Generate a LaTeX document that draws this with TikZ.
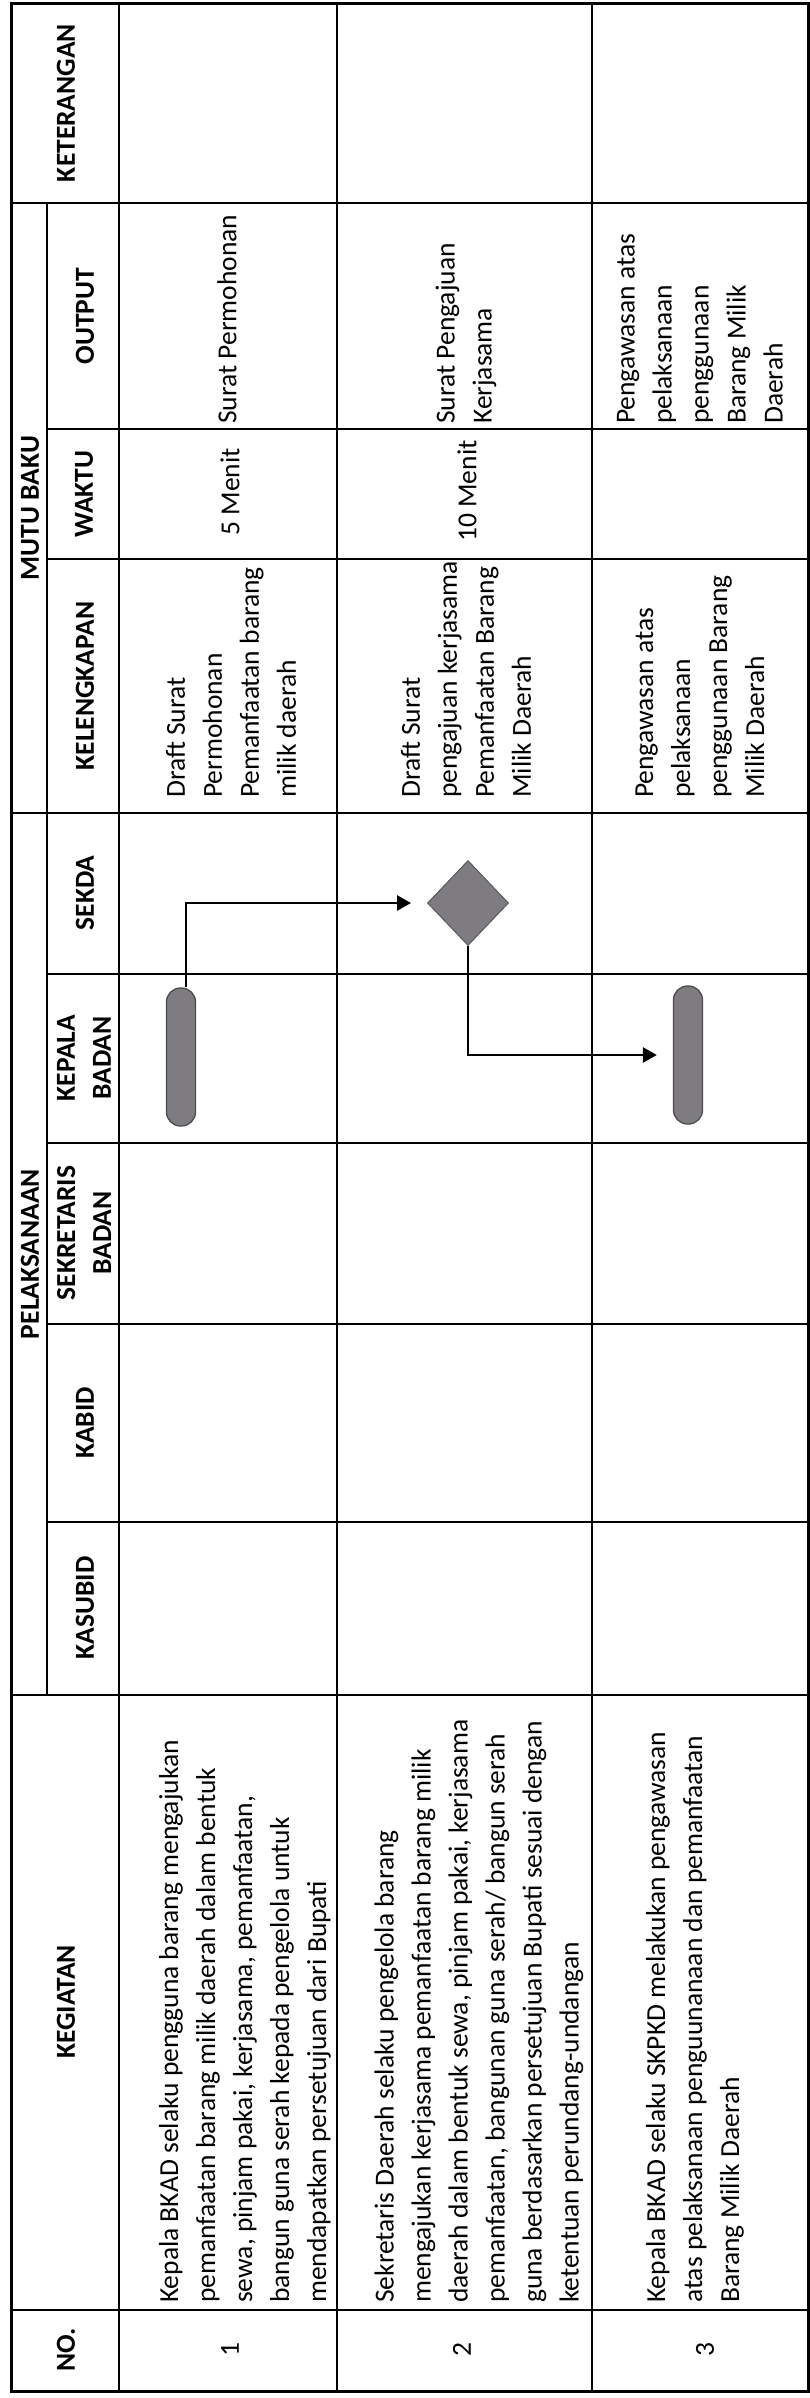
\documentclass[tikz,border=0pt]{standalone}
\usepackage{fontspec}
\setmainfont{Carlito}
\usetikzlibrary{arrows.meta,shapes.geometric}
\definecolor{shapegray}{RGB}{126,123,129}
\begin{document}
\begin{tikzpicture}[x=1pt,y=-1pt,
  rule/.style={line width=2.7pt, line cap=rect},
  border/.style={line width=3pt},
  hd/.style={rotate=90, font=\bfseries\fontsize{27.5pt}{36pt}\selectfont, align=center, inner sep=0pt},
  txt/.style={rotate=90, anchor=west, font=\fontsize{27.5pt}{37pt}\selectfont, align=left, inner sep=0pt},
  num/.style={rotate=90, font=\fontsize{27.5pt}{37pt}\selectfont, inner sep=0pt},
  term/.style={draw=black!70, line width=1.3pt, fill=shapegray, rounded corners=14pt, minimum width=29pt, minimum height=138pt, inner sep=0pt},
  dec/.style={diamond, draw=black!65, line width=1pt, fill=shapegray, minimum width=81pt, minimum height=85pt, inner sep=0pt},
  flow/.style={line width=2.8pt, -{Triangle[length=14pt,width=15pt]}, shorten >=16pt}
]
\useasboundingbox[fill=white] (0,0) rectangle (810,2398);

% grid
\foreach \yy in {203,813,1695,2310} \draw[rule] (11,\yy) -- (808,\yy);
\foreach \yy in {429,559,974,1143,1324,1522} \draw[rule] (47,\yy) -- (808,\yy);
\draw[rule] (47,203) -- (47,1695);
\foreach \xx in {119,337,592} \draw[rule] (\xx,4) -- (\xx,2391);
\draw[border] (11,4) rectangle (808,2391);

% header
\node[hd] (hket) at (66,103) {KETERANGAN};
\node[hd] (hmutu) at (30,508) {MUTU BAKU};
\node[hd] (hpel) at (30,1254) {PELAKSANAAN};
\node[hd] (hout) at (85,316) {OUTPUT};
\node[hd] (hwak) at (84,494) {WAKTU};
\node[hd] (hkel) at (85,686) {KELENGKAPAN};
\node[hd] (hsek) at (85,893) {SEKDA};
\node[hd] (hkep) at (84,1058) {KEPALA\\BADAN};
\node[hd] (hsekr) at (84,1233) {SEKRETARIS\\BADAN};
\node[hd] (hkab) at (85,1423) {KABID};
\node[hd] (hkas) at (85,1608) {KASUBID};
\node[hd] (hkeg) at (66,2002) {KEGIATAN};
\node[hd] (hno) at (66,2350) {NO.};

% numbers
\node[num] (n1) at (230,2350) {1};
\node[num] (n2) at (462,2350) {2};
\node[num] (n3) at (705,2350) {3};

% kegiatan
\node[txt] (k1) at (245,2303) {Kepala BKAD selaku pengguna barang mengajukan\\pemanfaatan barang milik daerah dalam bentuk\\sewa, pinjam pakai, kerjasama, pemanfaatan,\\bangun guna serah kepada pengelola untuk\\mendapatkan persetujuan dari Bupati};
\node[txt] (k2) at (479,2303) {Sekretaris Daerah selaku pengelola barang\\mengajukan kerjasama pemanfaatan barang milik\\daerah dalam bentuk sewa, pinjam pakai, kerjasama\\pemanfaatan, bangunan guna serah/ bangun serah\\guna berdasarkan persetujuan Bupati sesuai dengan\\ketentuan perundang-undangan};
\node[txt] (k3) at (695,2303) {Kepala BKAD selaku SKPKD melakukan pengawasan\\atas pelaksanaan penguunanaan dan pemanfaatan\\Barang Milik Daerah};

% kelengkapan
\node[txt] (l1) at (231,798) {Draft Surat\\Permohonan\\Pemanfaatan barang\\milik daerah};
\node[txt] (l2) at (466,798) {Draft Surat\\pengajuan kerjasama\\Pemanfaatan Barang\\Milik Daerah};
\node[txt] (l3) at (700,798) {Pengawasan atas\\pelaksanaan\\penggunaan Barang\\Milik Daerah};

% waktu
\node[num] (w1) at (230,492) {5 Menit};
\node[num] (w2) at (467,491) {10 Menit};

% output
\node[txt] (o1) at (227,424) {Surat Permohonan};
\node[txt] (o2) at (466,424) {Surat Pengajuan\\Kerjasama};
\node[txt] (o3) at (700,424) {Pengawasan atas\\pelaksanaan\\penggunaan\\Barang Milik\\Daerah};

% flow shapes
\node[term] (p1) at (181,1057) {};
\node[dec] (d) at (468,903) {};
\node[term] (p3) at (688,1055) {};
\draw[flow] ([xshift=5pt]p1.north) |- (d.west);
\draw[flow] (d.south) |- (p3.west);
\end{tikzpicture}
\end{document}
